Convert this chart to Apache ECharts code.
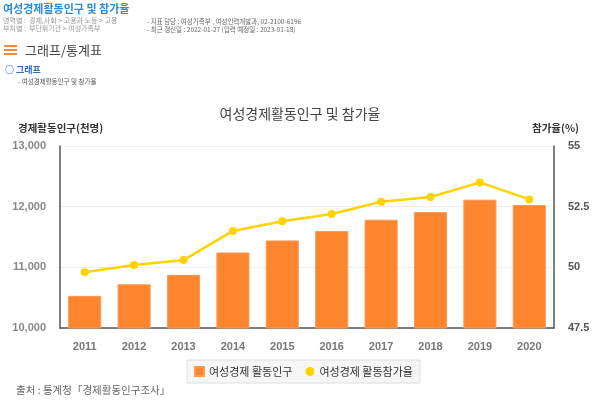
<!DOCTYPE html>
<html>
<head>
<meta charset="utf-8">
<script src="https://cdn.jsdelivr.net/npm/echarts@6/dist/echarts.min.js"></script>
<style>
  html, body { margin: 0; padding: 0; background: #fff; }
  body { width: 600px; height: 401px; position: relative; overflow: hidden; font-family: "Noto Sans CJK KR", sans-serif; }
  #chart { position: absolute; left: 0; top: 0; width: 600px; height: 401px; }
  .t { position: absolute; white-space: nowrap; line-height: 1; }
  .bar { position: absolute; left: 4px; width: 13px; height: 2px; background: #f7893a; }
</style>
</head>
<body>
<div id="chart"></div>

<div class="t" style="left:3px;top:3px;font-size:11px;font-weight:bold;color:#2b8bd6;">여성경제활동인구 및 참가율</div>
<div class="t" style="left:3px;top:17px;font-size:7px;color:#9a9a9a;">영역별 :&nbsp; 경제,사회 &gt; 고용과 노동 &gt; 고용</div>
<div class="t" style="left:3px;top:25px;font-size:7px;color:#9a9a9a;">부처별 :&nbsp; 부단위기관 &gt; 여성가족부</div>
<div class="t" style="left:147px;top:18px;font-size:6.5px;color:#666;">- 지표 담당 : 여성가족부 , 여성인력개발과, 02-2100-6196</div>
<div class="t" style="left:147px;top:26px;font-size:6.5px;color:#666;">- 최근 갱신일 : 2022-01-27 (입력 예정일 : 2023-01-18)</div>

<div class="bar" style="top:45px;"></div>
<div class="bar" style="top:49px;"></div>
<div class="bar" style="top:53px;"></div>
<div class="t" style="left:25px;top:43px;font-size:13px;color:#444;">그래프/통계표</div>
<div class="t" style="left:5px;top:65px;font-size:9px;font-weight:bold;color:#2b6fb8;">○ 그래프</div>
<div class="t" style="left:18px;top:78px;font-size:6.5px;color:#555;">- 여성경제활동인구 및 참가율</div>

<script>
var years = ["2011", "2012", "2013", "2014", "2015", "2016", "2017", "2018", "2019", "2020"];
// 여성 경제활동인구 (천명)
var population = [10530, 10720, 10876, 11245, 11443, 11598, 11785, 11912, 12116, 12028];
// 여성 경제활동참가율 (%)
var rate = [49.8, 50.1, 50.3, 51.5, 51.9, 52.2, 52.7, 52.9, 53.5, 52.8];

var popTicks = { min: 10000, max: 13000, step: 1000 };
var rateTicks = { min: 47.5, max: 55, step: 2.5 };

var KR = '"Noto Sans CJK KR", sans-serif';
var NUM = '"Liberation Sans", Arial, sans-serif';

var chart = echarts.init(document.getElementById("chart"));

chart.setOption({
  animation: false,
  textStyle: { fontFamily: KR },
  title: {
    text: "여성경제활동인구 및 참가율",
    left: "center",
    top: 102,
    textStyle: { fontSize: 14, fontWeight: "normal", color: "#444", fontFamily: KR }
  },
  grid: { left: 60, right: 46, top: 146, bottom: 73 },
  legend: {
    left: 187,
    top: 360,
    padding: [6, 7, 6, 7],
    itemWidth: 9,
    itemHeight: 9,
    itemGap: 13,
    backgroundColor: "#f6f6f6",
    borderColor: "#dedede",
    borderWidth: 1,
    textStyle: { fontSize: 11, color: "#333", fontFamily: KR },
    data: [
      { name: "여성경제 활동인구", icon: "rect" },
      { name: "여성경제 활동참가율", icon: "circle" }
    ]
  },
  xAxis: {
    type: "category",
    data: years,
    axisTick: { show: false },
    axisLine: { lineStyle: { color: "#555", width: 1.5 } },
    axisLabel: { margin: 13, fontSize: 11, color: "#777", fontWeight: "bold", fontFamily: NUM }
  },
  yAxis: [{
    type: "value",
    min: popTicks.min,
    max: popTicks.max,
    interval: popTicks.step,
    name: "경제활동인구(천명)",
    nameGap: 13,
    nameTextStyle: { align: "left", padding: [0, 0, 0, -42], fontSize: 10.5, fontWeight: "bold", color: "#333", fontFamily: KR },
    axisLine: { show: true, lineStyle: { color: "#555", width: 1.5 } },
    axisTick: { show: false },
    axisLabel: {
      margin: 14, fontSize: 11, color: "#888", fontWeight: "bold", fontFamily: NUM,
      formatter: function(v) { return v.toLocaleString("en-US"); }
    },
    splitLine: { lineStyle: { color: "#eeeeee" } }
  }, {
    type: "value",
    min: rateTicks.min,
    max: rateTicks.max,
    interval: rateTicks.step,
    name: "참가율(%)",
    nameGap: 13,
    nameTextStyle: { align: "right", padding: [0, -25, 0, 0], fontSize: 10.5, fontWeight: "bold", color: "#333", fontFamily: KR },
    axisLine: { show: true, lineStyle: { color: "#555", width: 1.5 } },
    axisTick: { show: false },
    axisLabel: { margin: 14, fontSize: 11, color: "#555", fontWeight: "bold", fontFamily: NUM },
    splitLine: { show: false }
  }],
  series: [{
    name: "여성경제 활동인구",
    type: "bar",
    data: population,
    barWidth: "67%",
    itemStyle: { color: "#fd852d", borderColor: "#fe9a55", borderWidth: 1 }
  }, {
    name: "여성경제 활동참가율",
    type: "line",
    yAxisIndex: 1,
    data: rate,
    symbol: "circle",
    symbolSize: 8,
    lineStyle: { color: "#ffd200", width: 2.5 },
    itemStyle: { color: "#ffd200" }
  }],
  graphic: [{
    type: "text",
    left: 16,
    top: 385,
    style: { text: "출처 : 통계청「경제활동인구조사」", fontSize: 10.5, fill: "#666", fontFamily: KR }
  }]
});
</script>
</body>
</html>
